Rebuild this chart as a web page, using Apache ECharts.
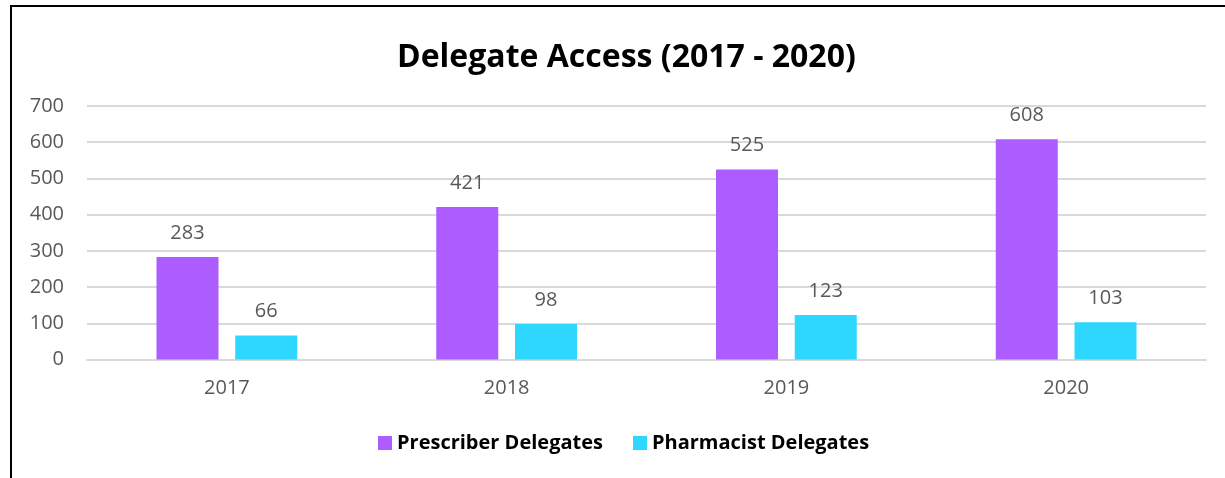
<!DOCTYPE html>
<html>
<head>
<meta charset="utf-8">
<script src="https://cdn.jsdelivr.net/npm/echarts@6/dist/echarts.min.js"></script>
<style>
    html, body { margin: 0; padding: 0; background: #fff; }
    #chart { width: 1225px; height: 478px; }
</style>
</head>
<body>
<div id="chart"></div>
<script>
// chart data
var years = ['2017', '2018', '2019', '2020'];
var prescriber = [283, 421, 525, 608];
var pharmacist = [66, 98, 123, 103];
var seriesNames = ['Prescriber Delegates', 'Pharmacist Delegates'];

var textFont = '"Open Sans", "Noto Sans", sans-serif';
var labelStyle = {
    show: true,
    position: 'top',
    distance: 14,
    color: '#595959',
    fontSize: 20,
    fontFamily: textFont
};

var chart = echarts.init(document.getElementById('chart'));
chart.setOption({
    animation: false,
    backgroundColor: '#fff',
    title: {
        text: 'Delegate Access (2017 - 2020)',
        left: 392,
        top: 37,
        textStyle: {
            color: '#000',
            fontSize: 32,
            fontWeight: 'bold',
            fontFamily: textFont
        }
    },
    // outer frame, only left and top edges are in view
    graphic: [
        {
            type: 'rect',
            shape: {x: 11, y: 6, width: 1300, height: 600},
            style: {fill: 'none', stroke: '#000', lineWidth: 2}
        }
    ],
    legend: {
        bottom: 20,
        left: 373,
        itemWidth: 14,
        itemHeight: 14,
        itemGap: 30,
        icon: 'rect',
        textStyle: {
            color: '#000',
            fontSize: 20,
            fontWeight: 'bold',
            fontFamily: textFont
        },
        data: seriesNames
    },
    grid: {
        left: 87,
        right: 19,
        top: 106,
        bottom: 118.5,
        containLabel: false
    },
    xAxis: {
        type: 'category',
        data: years,
        axisTick: {show: false},
        axisLine: {lineStyle: {color: '#d9d9d9', width: 2}},
        axisLabel: {
            color: '#595959',
            fontSize: 20,
            margin: 19,
            fontFamily: textFont
        }
    },
    yAxis: {
        type: 'value',
        min: 0,
        max: 700,
        interval: 100,
        axisLine: {show: false},
        axisTick: {show: false},
        splitLine: {lineStyle: {color: '#d9d9d9', width: 2}},
        axisLabel: {
            color: '#595959',
            fontSize: 20,
            margin: 23,
            fontFamily: textFont
        }
    },
    series: [
        {
            name: seriesNames[0],
            type: 'bar',
            data: prescriber,
            barWidth: 62,
            barGap: '27%',
            itemStyle: {color: '#ad5cff'},
            label: labelStyle
        },
        {
            name: seriesNames[1],
            type: 'bar',
            data: pharmacist,
            barWidth: 62,
            barGap: '27%',
            itemStyle: {color: '#2ed7ff'},
            label: labelStyle
        }
    ]
});
</script>
</body>
</html>
